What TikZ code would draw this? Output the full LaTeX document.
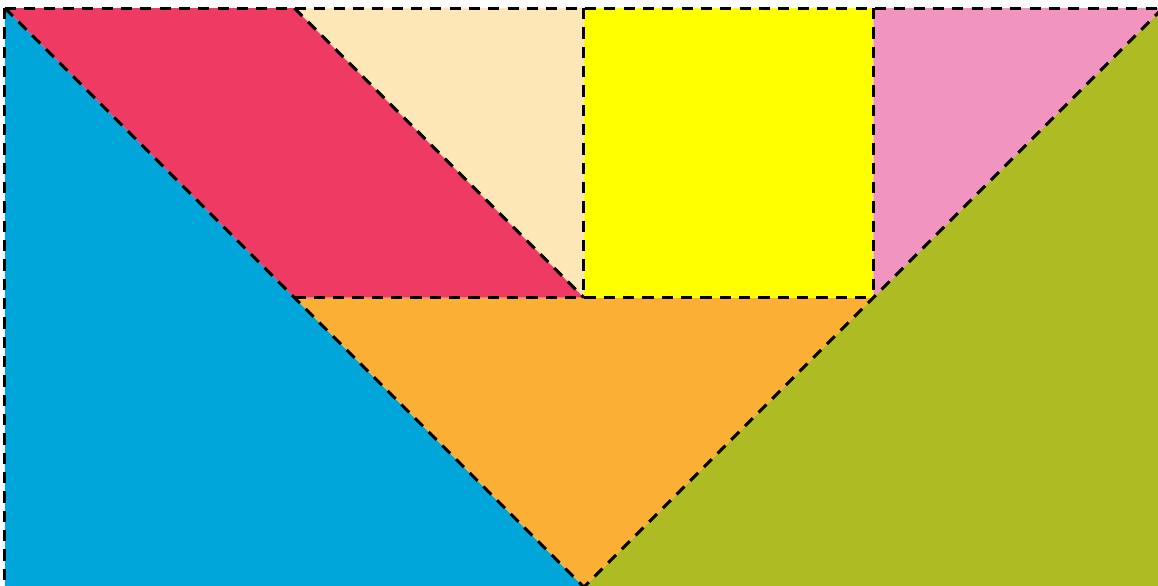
\documentclass[tikz,border=0pt]{standalone}
\usepackage{xcolor}
\usepackage{tikz}
\usetikzlibrary{calc}
\definecolor{tgBlue}{HTML}{00A6D9}
\definecolor{tgRed}{HTML}{EF3A63}
\definecolor{tgCream}{HTML}{FDE7B7}
\definecolor{tgYellow}{HTML}{FFFF00}
\definecolor{tgPink}{HTML}{F294C0}
\definecolor{tgOrange}{HTML}{FBAF34}
\definecolor{tgGreen}{HTML}{AFBB22}
\tikzset{
  cut/.style={draw=black, line width=0.6pt, dash pattern=on 2.2pt off 1.6pt}
}

\begin{document}
\begin{tikzpicture}[x=2cm, y=2cm]
  \useasboundingbox (-0.017,0.004) rectangle (3.983,2.028);
  % corner points
  \coordinate (tl) at (0,2);
  \coordinate (tm) at (1,2);
  \coordinate (tc) at (2,2);
  \coordinate (tr) at (3,2);
  \coordinate (te) at (4,2);
  \coordinate (ml) at (1,1);
  \coordinate (mc) at (2,1);
  \coordinate (mr) at (3,1);
  \coordinate (bl) at (0,0);
  \coordinate (bc) at (2,0);
  \coordinate (be) at (4,0);
  % pieces
  \fill[tgBlue] (tl) -- (bc) -- (bl) -- cycle;
  \fill[tgGreen] (te) -- (be) -- (bc) -- cycle;
  \fill[tgOrange] (ml) -- (mr) -- (bc) -- cycle;
  \fill[tgRed] (tl) -- (tm) -- (mc) -- (ml) -- cycle;
  \fill[tgCream] (tm) -- (tc) -- (mc) -- cycle;
  \fill[tgYellow] (tc) -- (tr) -- (mr) -- (mc) -- cycle;
  \fill[tgPink] (tr) -- (te) -- (mr) -- cycle;
  % cut lines
  \draw[cut] (tl) -- (te);
  \draw[cut] (tl) -- (bl);
  \draw[cut] (tl) -- (bc);
  \draw[cut] (te) -- (bc);
  \draw[cut] (ml) -- (mr);
  \draw[cut] (tm) -- (mc);
  \draw[cut] (tc) -- (mc);
  \draw[cut] (tr) -- (mr);
  \draw[cut] (bl) -- (be) -- (te);
\end{tikzpicture}
\end{document}
